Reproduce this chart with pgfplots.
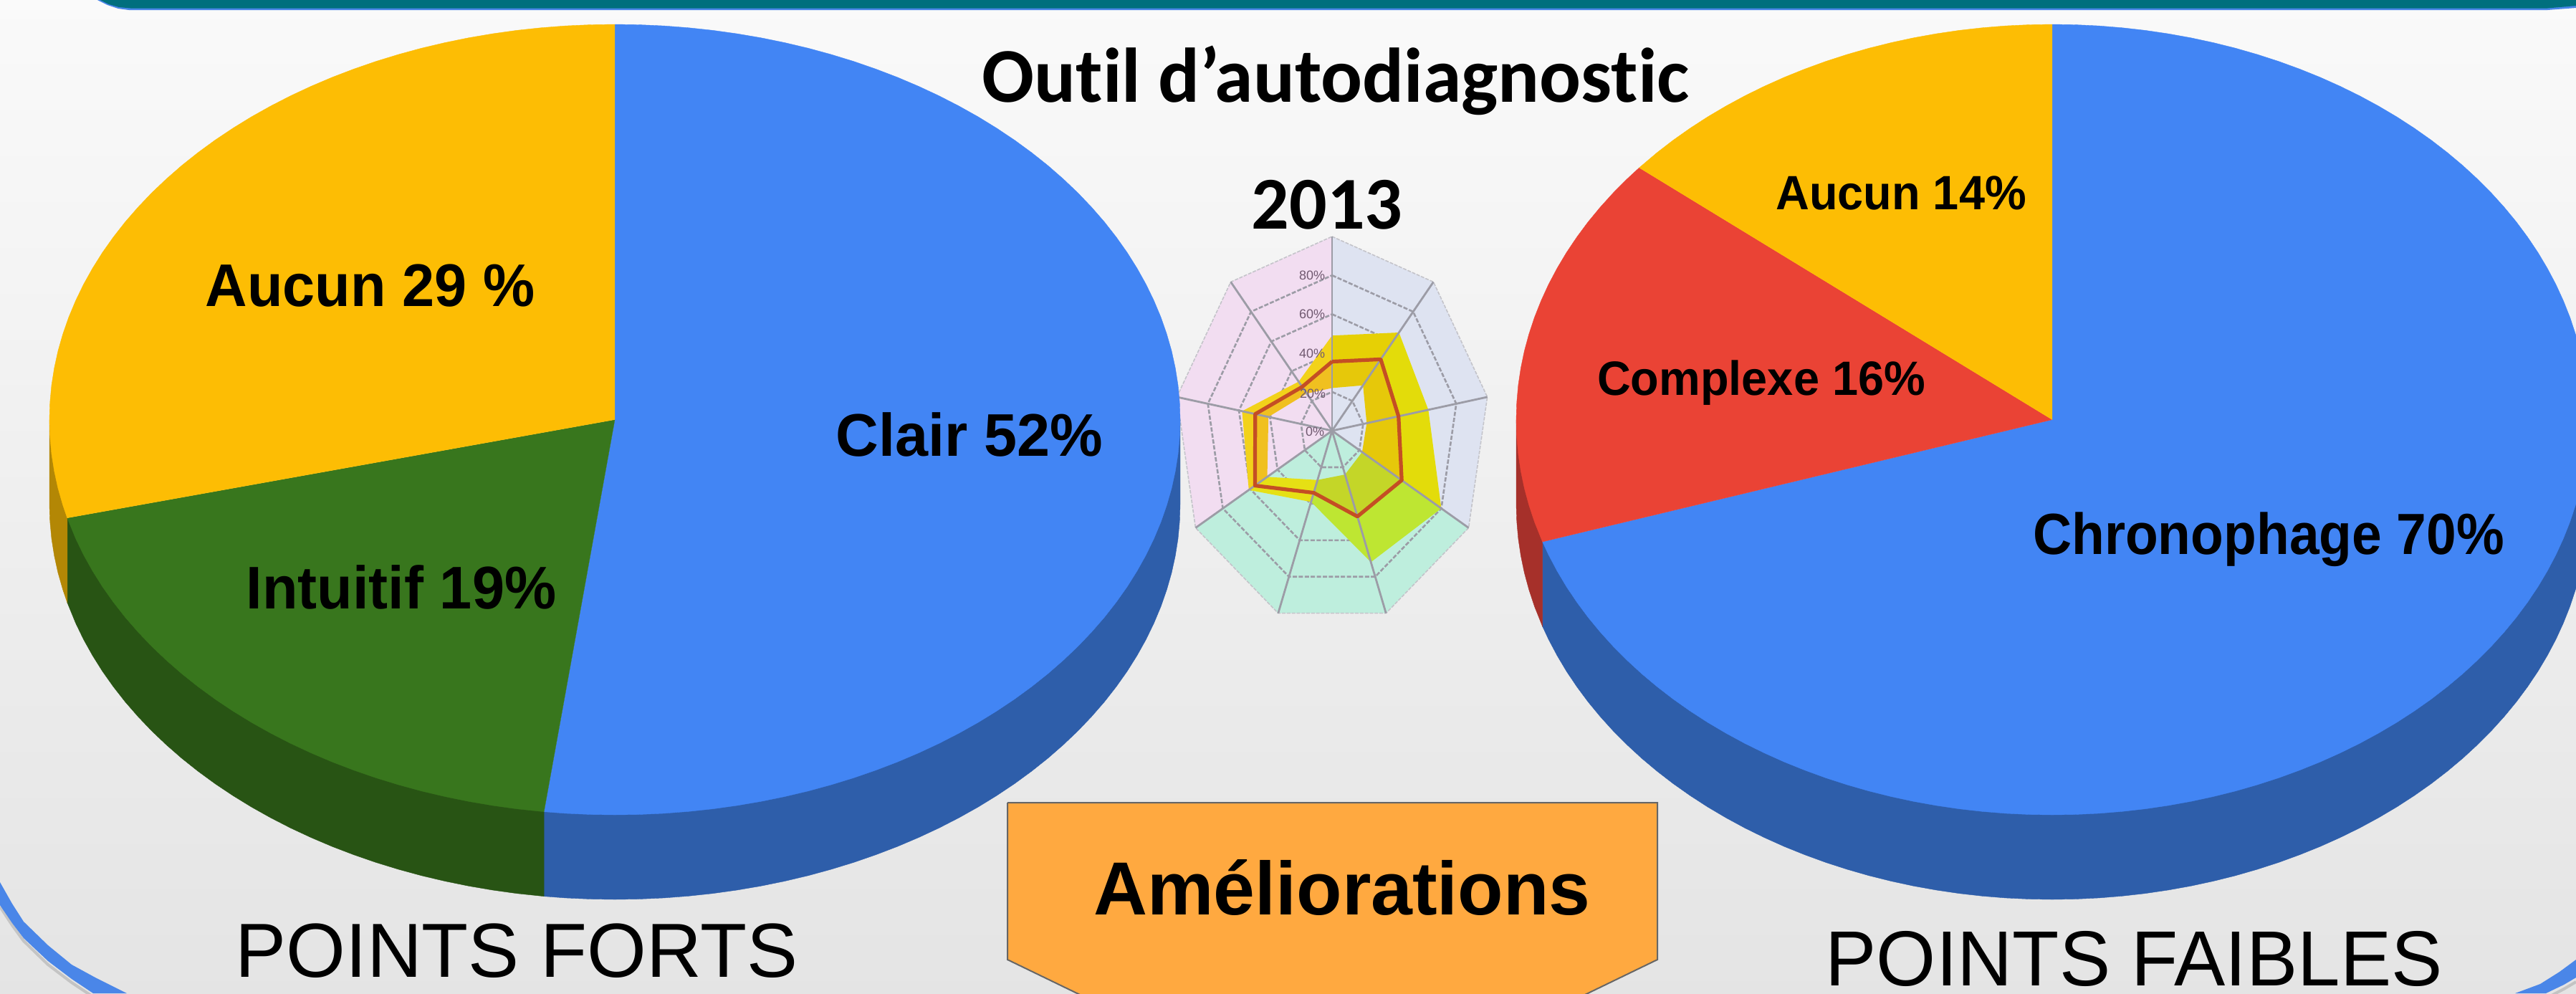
\documentclass[border=0pt]{standalone}
\usepackage{graphicx}
\usepackage{fontspec}
\setmainfont{Liberation Sans}
\newfontfamily\calib[Ligatures=NoCommon]{Carlito}
\usepackage{pgfplots}
\pgfplotsset{compat=1.18}
\definecolor{pblue}{HTML}{4285F4}
\definecolor{pblueS}{HTML}{2E5EAA}
\definecolor{pyel}{HTML}{FDBD04}
\definecolor{pyelS}{HTML}{B38705}
\definecolor{pgrn}{HTML}{38761D}
\definecolor{pgrnS}{HTML}{285414}
\definecolor{pred}{HTML}{EA4335}
\definecolor{predS}{HTML}{A6302A}
\definecolor{frame}{HTML}{4A86E8}
\definecolor{teal}{HTML}{006F7E}
\definecolor{spoke}{HTML}{9C9CA6}
\definecolor{secA}{HTML}{DEE3F1}
\definecolor{secB}{HTML}{BEEEDD}
\definecolor{secC}{HTML}{F2DDF1}
\newcommand\pietop[4]{\addplot[no markers,fill=#3,draw=#3,line width=0.1pt] table[row sep=\\,x expr={#1+#2*\thisrow{r}*sin(\thisrow{a})},y expr={585.5-551.5*\thisrow{r}*cos(\thisrow{a})}] {a r\\ #4};}
\newcommand\pieside[4]{\addplot[no markers,fill=#3,draw=#3,line width=0.1pt] table[row sep=\\,x expr={#1+#2*sin(\thisrow{a})},y expr={585.5-551.5*cos(\thisrow{a})+118*\thisrow{d}}] {a d\\ #4};}
\newcommand\radfill[2]{\addplot[no markers,fill=#1,draw=none] table[row sep=\\,x expr={1859+220*\thisrow{r}*sin(\thisrow{a})},y expr={601-271*\thisrow{r}*cos(\thisrow{a})}] {a r\\ #2};}
\newcommand\radline[2]{\addplot[no markers,#1] table[row sep=\\,x expr={1859+220*\thisrow{r}*sin(\thisrow{a})},y expr={601-271*\thisrow{r}*cos(\thisrow{a})}] {a r\\ #2};}
\newcommand\lab[5]{\node[anchor=base,inner sep=0pt,outer sep=0pt] at (axis cs:#1,#2) {\fontsize{#3}{#3}\selectfont\scalebox{#4}[1]{#5}};}
\newcommand\tinylab[3]{\node[anchor=center,inner sep=0pt,text=black!40!violet!30!gray] at (axis cs:#1,#2) {\fontsize{4.5}{4.5}\selectfont #3};}
\begin{document}
\begin{tikzpicture}
\begin{axis}[at={(0pt,0pt)},anchor=south west,scale only axis,width=898.75pt,height=346.5pt,
  xmin=0,xmax=3595,ymin=0,ymax=1386,y dir=reverse,hide axis]
\fill[top color=white!98!black,bottom color=black!10.5] (axis cs:0,0) rectangle (axis cs:3595,1386);
% frame and header
\addplot[no markers,fill=frame,draw=none] coordinates {(136,0)(150,7)(165,12)(180,14)(3555,14)(3595,11)(3595,0)};
\addplot[no markers,fill=teal,draw=none] coordinates {(140,0)(152,6)(166,10)(182,11.5)(3555,11.5)(3595,8)(3595,0)};
% shadow and arcs at the lower corners
\addplot[no markers,draw=black,opacity=0.14,line width=1pt] coordinates {(0,1265)(17,1291)(33,1313)(67,1346)(100,1371)(130,1391)};
\addplot[no markers,draw=black,opacity=0.14,line width=1pt] coordinates {(3595,1370)(3578,1380)(3555,1392)};
\addplot[no markers,fill=frame,draw=none] coordinates {(0,1231)(17,1261)(33,1286)(67,1319)(100,1346)(133,1364)(177,1386)(130,1386)(100,1366)(67,1341)(33,1309)(17,1288)(0,1263)};
\addplot[no markers,fill=frame,draw=none] coordinates {(3510,1386)(3545,1373)(3572,1356)(3595,1339)(3595,1364)(3578,1374)(3553,1386)};
% radar
\radfill{secA}{0 0\\0 1\\40 1\\80 1\\120 1\\}
\radfill{secB}{120 0\\120 1\\160 1\\200 1\\240 1\\}
\radfill{secC}{240 0\\240 1\\280 1\\320 1\\360 1\\360 0\\}
\radline{draw=spoke!60,line width=0.4pt,dash pattern=on 1.2pt off 0.5pt}{0 1\\40 1\\80 1\\120 1\\160 1\\200 1\\240 1\\280 1\\320 1\\360 1\\}
\radline{draw=spoke,line width=0.65pt,dash pattern=on 1.5pt off 0.6pt}{0 .8\\40 .8\\80 .8\\120 .8\\160 .8\\200 .8\\240 .8\\280 .8\\320 .8\\360 .8\\}
\radline{draw=spoke,line width=0.65pt,dash pattern=on 1.5pt off 0.6pt}{0 .6\\40 .6\\80 .6\\120 .6\\160 .6\\200 .6\\240 .6\\280 .6\\320 .6\\360 .6\\}
\radline{draw=spoke,line width=0.65pt,dash pattern=on 1.5pt off 0.6pt}{0 .4\\40 .4\\80 .4\\120 .4\\160 .4\\200 .4\\240 .4\\280 .4\\320 .4\\360 .4\\}
\radline{draw=spoke,line width=0.65pt,dash pattern=on 1.5pt off 0.6pt}{0 .2\\40 .2\\80 .2\\120 .2\\160 .2\\200 .2\\240 .2\\280 .2\\320 .2\\360 .2\\}
% band, outer half
\definecolor{bA}{HTML}{E6D005}\definecolor{bB}{HTML}{E3DC0A}\definecolor{bC}{HTML}{BEE632}\definecolor{bD}{HTML}{E6E014}\definecolor{bE}{HTML}{F2D21A}
\radfill{bA}{0 .356\\0 .49\\40 .66\\40 .48\\}
\radfill{bB}{40 .48\\40 .66\\80 .62\\80 .428\\}
\radfill{bB}{80 .428\\80 .62\\120 .80\\120 .51\\}
\radfill{bC}{120 .51\\120 .80\\160 .72\\160 .47\\}
\radfill{bC}{160 .47\\160 .72\\200 .39\\200 .34\\}
\radfill{bD}{200 .34\\200 .39\\240 .61\\240 .565\\}
\radfill{bE}{240 .565\\240 .61\\280 .58\\280 .495\\}
\radfill{bE}{280 .495\\280 .58\\320 .33\\320 .295\\}
\radfill{bE}{320 .295\\320 .33\\360 .49\\360 .356\\}
% band, inner half
\definecolor{cA}{HTML}{E6C80A}\definecolor{cB}{HTML}{C4D628}\definecolor{cC}{HTML}{F0C020}
\radfill{cA}{0 .22\\0 .356\\40 .48\\40 .305\\}
\radfill{cA}{40 .305\\40 .48\\80 .428\\80 .223\\}
\radfill{cA}{80 .223\\80 .428\\120 .51\\120 .22\\}
\radfill{cB}{120 .22\\120 .51\\160 .47\\160 .24\\}
\radfill{cB}{160 .24\\160 .47\\200 .34\\200 .27\\}
\radfill{bD}{200 .27\\200 .34\\240 .565\\240 .475\\}
\radfill{cC}{240 .475\\240 .565\\280 .495\\280 .41\\}
\radfill{cC}{280 .41\\280 .495\\320 .295\\320 .25\\}
\radfill{cC}{320 .25\\320 .295\\360 .356\\360 .22\\}
% spokes
\radline{draw=spoke,line width=0.7pt}{0 0\\0 1\\}
\radline{draw=spoke,line width=0.7pt}{40 0\\40 1\\}
\radline{draw=spoke,line width=0.7pt}{80 0\\80 1\\}
\radline{draw=spoke,line width=0.7pt}{120 0\\120 1\\}
\radline{draw=spoke,line width=0.7pt}{160 0\\160 1\\}
\radline{draw=spoke,line width=0.7pt}{200 0\\200 1\\}
\radline{draw=spoke,line width=0.7pt}{240 0\\240 1\\}
\radline{draw=spoke,line width=0.7pt}{280 0\\280 1\\}
\radline{draw=spoke,line width=0.7pt}{320 0\\320 1\\}
\radline{draw={rgb,255:red,196;green,78;blue,36},line width=1.3pt,line join=round}{0 .356\\40 .48\\80 .428\\120 .51\\160 .47\\200 .34\\240 .565\\280 .495\\320 .295\\360 .356\\}
\tinylab{1835}{602}{0\%}
\tinylab{1832}{549}{20\%}
\tinylab{1831}{493}{40\%}
\tinylab{1831}{438.5}{60\%}
\tinylab{1831}{384}{80\%}
% left pie: Clair 52, Intuitif 19, Aucun 29
\pieside{858}{789}{pblueS}{90 0\\90 1\\92.5 1\\95 1\\97.5 1\\100 1\\102.5 1\\105 1\\107.5 1\\110 1\\112.5 1\\115 1\\117.5 1\\120 1\\122.5 1\\125 1\\127.5 1\\130 1\\132.5 1\\135 1\\137.5 1\\140 1\\142.5 1\\145 1\\147.5 1\\150 1\\152.5 1\\155 1\\157.5 1\\160 1\\162.5 1\\165 1\\167.5 1\\170 1\\172.5 1\\175 1\\177.5 1\\180 1\\182.5 1\\185 1\\187.2 1\\187.2 0\\}
\pieside{858}{789}{pgrnS}{187.2 0\\187.2 1\\190 1\\192.5 1\\195 1\\197.5 1\\200 1\\202.5 1\\205 1\\207.5 1\\210 1\\212.5 1\\215 1\\217.5 1\\220 1\\222.5 1\\225 1\\227.5 1\\230 1\\232.5 1\\235 1\\237.5 1\\240 1\\242.5 1\\245 1\\247.5 1\\250 1\\252.5 1\\255.6 1\\255.6 0\\}
\pieside{858}{789}{pyelS}{255.6 0\\255.6 1\\257.5 1\\260 1\\262.5 1\\265 1\\267.5 1\\270 1\\270 0\\}
\pietop{858}{789}{pblue}{0 0\\0 1\\2.5 1\\5 1\\7.5 1\\10 1\\12.5 1\\15 1\\17.5 1\\20 1\\22.5 1\\25 1\\27.5 1\\30 1\\32.5 1\\35 1\\37.5 1\\40 1\\42.5 1\\45 1\\47.5 1\\50 1\\52.5 1\\55 1\\57.5 1\\60 1\\62.5 1\\65 1\\67.5 1\\70 1\\72.5 1\\75 1\\77.5 1\\80 1\\82.5 1\\85 1\\87.5 1\\90 1\\92.5 1\\95 1\\97.5 1\\100 1\\102.5 1\\105 1\\107.5 1\\110 1\\112.5 1\\115 1\\117.5 1\\120 1\\122.5 1\\125 1\\127.5 1\\130 1\\132.5 1\\135 1\\137.5 1\\140 1\\142.5 1\\145 1\\147.5 1\\150 1\\152.5 1\\155 1\\157.5 1\\160 1\\162.5 1\\165 1\\167.5 1\\170 1\\172.5 1\\175 1\\177.5 1\\180 1\\182.5 1\\185 1\\187.2 1\\}
\pietop{858}{789}{pgrn}{187.2 0\\187.2 1\\190 1\\192.5 1\\195 1\\197.5 1\\200 1\\202.5 1\\205 1\\207.5 1\\210 1\\212.5 1\\215 1\\217.5 1\\220 1\\222.5 1\\225 1\\227.5 1\\230 1\\232.5 1\\235 1\\237.5 1\\240 1\\242.5 1\\245 1\\247.5 1\\250 1\\252.5 1\\255.6 1\\}
\pietop{858}{789}{pyel}{255.6 0\\255.6 1\\257.5 1\\260 1\\262.5 1\\265 1\\267.5 1\\270 1\\272.5 1\\275 1\\277.5 1\\280 1\\282.5 1\\285 1\\287.5 1\\290 1\\292.5 1\\295 1\\297.5 1\\300 1\\302.5 1\\305 1\\307.5 1\\310 1\\312.5 1\\315 1\\317.5 1\\320 1\\322.5 1\\325 1\\327.5 1\\330 1\\332.5 1\\335 1\\337.5 1\\340 1\\342.5 1\\345 1\\347.5 1\\350 1\\352.5 1\\355 1\\357.5 1\\360 1\\}
% right pie: Chronophage 70, Complexe 16, Aucun 14
\pieside{2864}{748}{pblueS}{90 0\\90 1\\92.5 1\\95 1\\97.5 1\\100 1\\102.5 1\\105 1\\107.5 1\\110 1\\112.5 1\\115 1\\117.5 1\\120 1\\122.5 1\\125 1\\127.5 1\\130 1\\132.5 1\\135 1\\137.5 1\\140 1\\142.5 1\\145 1\\147.5 1\\150 1\\152.5 1\\155 1\\157.5 1\\160 1\\162.5 1\\165 1\\167.5 1\\170 1\\172.5 1\\175 1\\177.5 1\\180 1\\182.5 1\\185 1\\187.5 1\\190 1\\192.5 1\\195 1\\197.5 1\\200 1\\202.5 1\\205 1\\207.5 1\\210 1\\212.5 1\\215 1\\217.5 1\\220 1\\222.5 1\\225 1\\227.5 1\\230 1\\232.5 1\\235 1\\237.5 1\\240 1\\242.5 1\\245 1\\247.5 1\\250 1\\252 1\\252 0\\}
\pieside{2864}{748}{predS}{252 0\\252 1\\255 1\\257.5 1\\260 1\\262.5 1\\265 1\\267.5 1\\270 1\\270 0\\}
\pietop{2864}{748}{pblue}{0 0\\0 1\\2.5 1\\5 1\\7.5 1\\10 1\\12.5 1\\15 1\\17.5 1\\20 1\\22.5 1\\25 1\\27.5 1\\30 1\\32.5 1\\35 1\\37.5 1\\40 1\\42.5 1\\45 1\\47.5 1\\50 1\\52.5 1\\55 1\\57.5 1\\60 1\\62.5 1\\65 1\\67.5 1\\70 1\\72.5 1\\75 1\\77.5 1\\80 1\\82.5 1\\85 1\\87.5 1\\90 1\\92.5 1\\95 1\\97.5 1\\100 1\\102.5 1\\105 1\\107.5 1\\110 1\\112.5 1\\115 1\\117.5 1\\120 1\\122.5 1\\125 1\\127.5 1\\130 1\\132.5 1\\135 1\\137.5 1\\140 1\\142.5 1\\145 1\\147.5 1\\150 1\\152.5 1\\155 1\\157.5 1\\160 1\\162.5 1\\165 1\\167.5 1\\170 1\\172.5 1\\175 1\\177.5 1\\180 1\\182.5 1\\185 1\\187.5 1\\190 1\\192.5 1\\195 1\\197.5 1\\200 1\\202.5 1\\205 1\\207.5 1\\210 1\\212.5 1\\215 1\\217.5 1\\220 1\\222.5 1\\225 1\\227.5 1\\230 1\\232.5 1\\235 1\\237.5 1\\240 1\\242.5 1\\245 1\\247.5 1\\250 1\\252 1\\}
\pietop{2864}{748}{pred}{252 0\\252 1\\255 1\\257.5 1\\260 1\\262.5 1\\265 1\\267.5 1\\270 1\\272.5 1\\275 1\\277.5 1\\280 1\\282.5 1\\285 1\\287.5 1\\290 1\\292.5 1\\295 1\\297.5 1\\300 1\\302.5 1\\305 1\\307.5 1\\309.6 1\\}
\pietop{2864}{748}{pyel}{309.6 0\\309.6 1\\312.5 1\\315 1\\317.5 1\\320 1\\322.5 1\\325 1\\327.5 1\\330 1\\332.5 1\\335 1\\337.5 1\\340 1\\342.5 1\\345 1\\347.5 1\\350 1\\352.5 1\\355 1\\357.5 1\\360 1\\}
% banner
\addplot[no markers,fill={rgb,255:red,255;green,169;blue,64},draw=black!60,line width=0.5pt] coordinates {(1406,1120)(2313,1120)(2313,1339)(2187,1400)(1532,1400)(1406,1339)(1406,1120)};
% labels
\lab{516.5}{427}{21}{.965}{\bfseries Aucun 29 \%}
\lab{1353}{636}{21}{.985}{\bfseries Clair 52\%}
\lab{560}{849}{21}{.965}{\bfseries Intuitif 19\%}
\lab{2653}{292}{16.8}{.965}{\bfseries Aucun 14\%}
\lab{2458}{551}{16.8}{.965}{\bfseries Complexe 16\%}
\lab{3166}{773}{20.25}{.925}{\bfseries Chronophage 70\%}
\lab{721}{1363}{26.75}{.995}{POINTS FORTS}
\lab{2978}{1375}{27.25}{.98}{POINTS FAIBLES}
\lab{1873}{1276}{26.25}{.99}{\bfseries Améliorations}
\lab{1864}{142}{27}{1}{\calib\bfseries Outil d’autodiagnostic}
\lab{1852}{319}{26}{1}{\calib\bfseries 2013}
\end{axis}
\end{tikzpicture}
\end{document}
